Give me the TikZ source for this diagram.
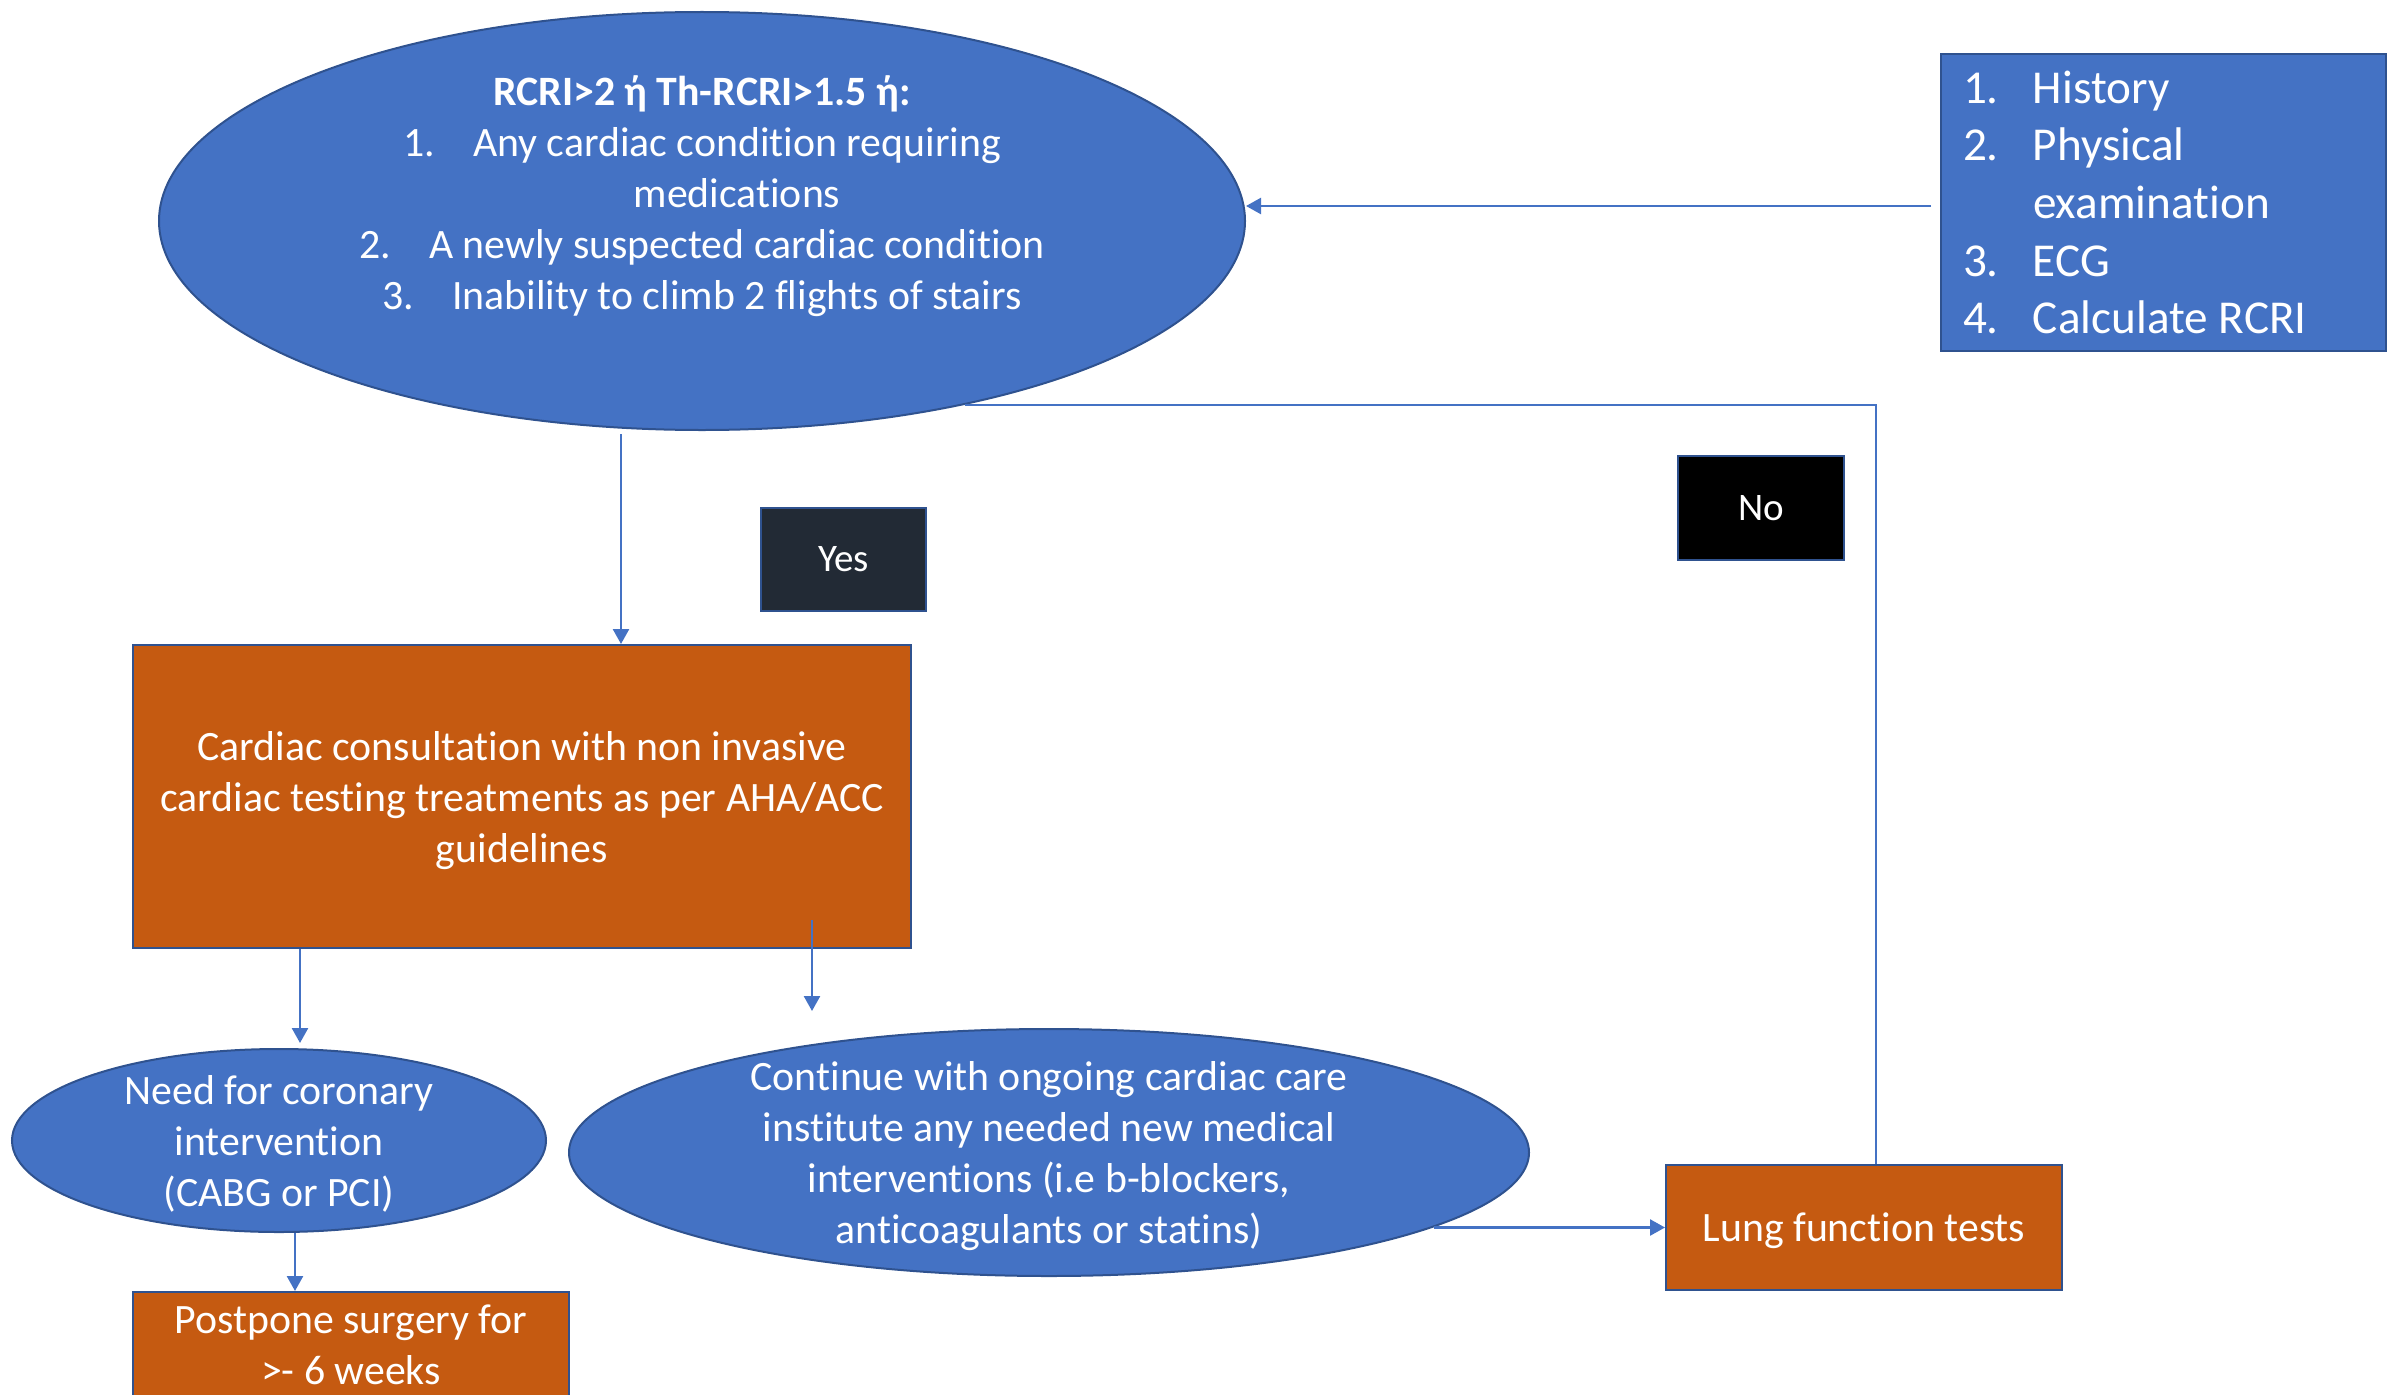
\documentclass[tikz,border=0pt]{standalone}
\usepackage{fontspec}
\setmainfont{Carlito}[Ligatures=NoCommon]
\usetikzlibrary{shapes.geometric,arrows.meta,calc}
\definecolor{accblue}{HTML}{4472C4}
\definecolor{edgeblue}{HTML}{2F528F}
\definecolor{burnt}{HTML}{C55A11}
\definecolor{slate}{HTML}{222A35}
\newcommand{\numitem}[1]{\makebox[70pt][l]{#1}}
\begin{document}
\begin{tikzpicture}[x=1pt,y=-1pt,
  bodyfont/.style={font=\fontsize{41.8}{51}\selectfont},
  bubble/.style={ellipse, draw=edgeblue, line width=2pt, fill=accblue,
    inner xsep=0pt, inner ysep=-22pt, text depth=0pt, text=white, align=center, bodyfont},
  orangebox/.style={rectangle, draw=edgeblue, line width=2pt, fill=burnt,
    inner sep=0pt, text depth=0pt, text=white, align=center, bodyfont},
  tagbox/.style={rectangle, draw=edgeblue, line width=2.5pt, inner sep=0pt,
    text=white, font=\fontsize{39}{47}\selectfont},
  flow/.style={draw=accblue, line width=2.5pt, -{Triangle[length=15pt,width=16pt]}},
  thinlink/.style={draw=accblue, line width=1.3pt}]

\useasboundingbox (0,0) rectangle (2397,1394);
\clip (0,0) rectangle (2397,1394);

% criteria ellipse and its list
\node[bubble, minimum width=1086pt, minimum height=418pt] (top) at (702,221) {};
\node[text=white, align=center, inner sep=0pt, bodyfont] (toptxt) at (702,196)
  {\textbf{RCRI>2 ή Th-RCRI>1.5 ή:}\\
   \numitem{1.}Any cardiac condition requiring\\
   \hspace*{70pt}medications\\
   \numitem{2.}A newly suspected cardiac condition\\
   \numitem{3.}Inability to climb 2 flights of stairs};

% initial assessment
\node[rectangle, draw=edgeblue, line width=2pt, fill=accblue, text=white,
  minimum width=445pt, minimum height=297pt, text width=401pt, inner xsep=22pt,
  inner ysep=0pt, align=flush left, font=\fontsize{47.2}{57.6}\selectfont] (exam) at (2163.5,202.5)
  {\numitem{1.}History\\
   \numitem{2.}Physical\\
   \hspace*{70pt}examination\\
   \numitem{3.}ECG\\
   \numitem{4.}Calculate RCRI};

% branch labels
\node[tagbox, fill=slate, minimum width=165pt, minimum height=103pt] (yes) at (843.5,559.5) {\raisebox{-3pt}{Yes}};
\node[tagbox, fill=black, minimum width=166pt, minimum height=104pt] (no) at (1761,508) {\raisebox{-2pt}{No}};

% outcomes
\node[orangebox, minimum width=778pt, minimum height=303pt] (consult) at (522,796.5)
  {Cardiac consultation with non invasive\\cardiac testing treatments as per AHA/ACC\\guidelines};
\node[bubble, minimum width=534pt, minimum height=183pt] (need) at (279,1140.5)
  {Need for coronary\\intervention\\(CABG or PCI)};
\node[bubble, minimum width=960pt, minimum height=247pt] (cont) at (1049,1152.5)
  {Continue with ongoing cardiac care\\institute any needed new medical\\interventions (i.e b-blockers,\\anticoagulants or statins)};
\node[orangebox, minimum width=396pt, minimum height=125pt] (lung) at (1864,1227.5)
  {Lung function tests};
\node[orangebox, minimum width=436pt, minimum height=105pt] (post) at (351,1344.5)
  {Postpone surgery for\\>- 6 weeks};

% connectors
\draw[flow] ([xshift=-9pt,yshift=-3.5pt]exam.west) -- ([yshift=-3.5pt]top.east |- exam.west);
\draw[flow] ([xshift=-81pt,yshift=-3pt]top.south) -- ([xshift=99pt]consult.north);
\draw[flow] ([xshift=-222pt]consult.south) -- ([xshift=21pt,yshift=5pt]need.north);
\draw[flow] ([xshift=290pt,yshift=29pt]consult.south) -- ([xshift=-237pt,yshift=17pt]cont.north);
\draw[flow] ([xshift=16pt]need.south) -- ([xshift=-56pt]post.north);
\draw[flow] (cont.-11.5 |- lung.west) -- (lung.west);
\draw[thinlink] ([xshift=12pt]lung.north) |- (top.-35.6);
\end{tikzpicture}
\end{document}
